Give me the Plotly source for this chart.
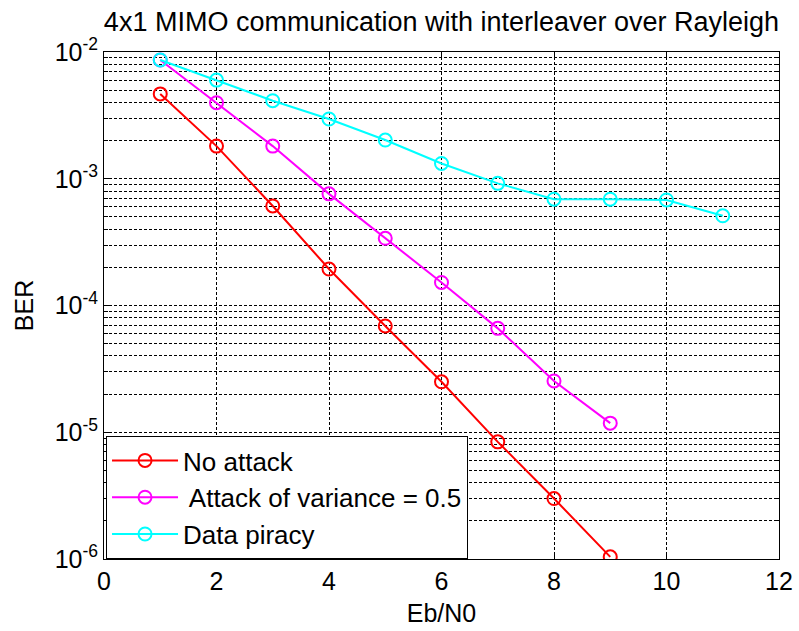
import plotly.graph_objects as go

ebn0_red = [1, 2, 3, 4, 5, 6, 7, 8, 9]
ber_no_attack = [4.67e-3, 1.81e-3, 6.1e-4, 1.94e-4, 6.9e-5, 2.5e-5, 8.4e-6, 3.0e-6, 1.04e-6]

ebn0_mag = [1, 2, 3, 4, 5, 6, 7, 8, 9]
ber_attack = [8.65e-3, 3.98e-3, 1.81e-3, 7.6e-4, 3.39e-4, 1.52e-4, 6.6e-5, 2.54e-5, 1.18e-5]

ebn0_cyan = [1, 2, 3, 4, 5, 6, 7, 8, 9, 10, 11]
ber_piracy = [8.65e-3, 6.0e-3, 4.13e-3, 2.96e-3, 2.02e-3, 1.32e-3, 9.2e-4, 6.9e-4, 6.9e-4, 6.8e-4, 5.1e-4]

names = ["No attack", " Attack of variance = 0.5", "Data piracy"]
colors = ["#FF0000", "#FF00FF", "#00FFFF"]

x_ticks = [0, 2, 4, 6, 8, 10, 12]
y_ticks = [1e-6, 1e-5, 1e-4, 1e-3, 1e-2]
y_ticktext = ["10<sup>-6</sup>", "10<sup>-5</sup>", "10<sup>-4</sup>", "10<sup>-3</sup>", "10<sup>-2</sup>"]
y_minor = [m * 10.0 ** e for e in range(-6, -2) for m in range(2, 10)]

font_family = "Liberation Sans, Arial, sans-serif"

fig = go.Figure()
for xs, ys, name, col in [
    (ebn0_red, ber_no_attack, names[0], colors[0]),
    (ebn0_mag, ber_attack, names[1], colors[1]),
    (ebn0_cyan, ber_piracy, names[2], colors[2]),
]:
    fig.add_trace(go.Scatter(
        x=xs, y=ys, name=name, mode="lines+markers",
        line=dict(color=col, width=2),
        marker=dict(symbol="circle-open", size=13, color=col, line=dict(width=2, color=col)),
    ))

fig.update_layout(
    width=799, height=631,
    margin=dict(l=104, r=20, t=52, b=72, autoexpand=False),
    paper_bgcolor="white", plot_bgcolor="white",
    font=dict(family=font_family, color="black"),
    title=dict(text="4x1 MIMO communication with interleaver over Rayleigh",
               x=0.5, xref="paper", xanchor="center",
               y=1 - 22 / 631, yref="container", yanchor="middle",
               font=dict(size=27, color="black", family=font_family)),
    legend=dict(x=0.003, y=0.0, xanchor="left", yanchor="bottom",
                bgcolor="white", bordercolor="black", borderwidth=1,
                font=dict(size=26, color="black", family=font_family),
                itemwidth=66, tracegroupgap=0),
    showlegend=True,
)

fig.update_xaxes(
    range=[0, 12], tickvals=x_ticks, ticktext=[str(v) for v in x_ticks],
    automargin=False,
    showline=True, linecolor="black", linewidth=1, mirror="ticks",
    ticks="inside", ticklen=6, tickcolor="black",
    showgrid=True, gridcolor="black", gridwidth=1, griddash="3px,2px",
    zeroline=False,
    tickfont=dict(size=25, color="black"),
    title=dict(text="Eb/N0", font=dict(size=25, color="black"), standoff=10),
)
fig.update_yaxes(
    type="log", range=[-6, -2], tickvals=y_ticks, ticktext=y_ticktext,
    automargin=False,
    showline=True, linecolor="black", linewidth=1, mirror="ticks",
    ticks="inside", ticklen=6, tickcolor="black",
    showgrid=True, gridcolor="black", gridwidth=1, griddash="3px,2px",
    zeroline=False,
    tickfont=dict(size=25, color="black"),
    minor=dict(tickvals=y_minor, ticks="inside", ticklen=4, tickcolor="black",
               showgrid=True, gridcolor="black", gridwidth=1, griddash="3px,2px"),
    title=dict(text="BER", font=dict(size=25, color="black"), standoff=13),
)

fig.write_html("out.html")
